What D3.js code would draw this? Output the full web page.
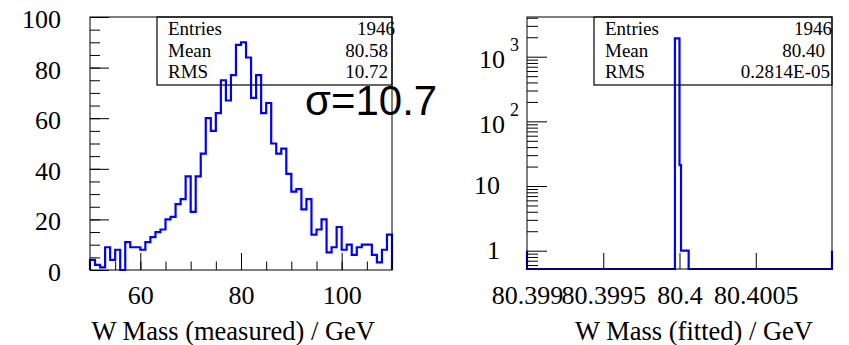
<!DOCTYPE html>
<html><head><meta charset="utf-8">
<script src="https://cdn.jsdelivr.net/npm/d3@7"></script>
<style>html,body{margin:0;padding:0;background:#fff;} svg{display:block;}</style>
</head><body>
<svg id="c" width="849" height="345"></svg>
<script>
// ---------- data ----------
const massRange = [50, 110];
const massCounts = [4, 2, 1, 9, 4, 8, 0, 11, 9, 9,
                    8, 11, 13, 15, 16, 20, 21, 26, 28, 37,
                    23, 37, 46, 60, 55, 62, 75, 67, 77, 89,
                    90, 84, 68, 77, 62, 66, 50, 46, 48, 38,
                    31, 32, 24, 28, 14, 16, 20, 7, 9, 17,
                    8, 10, 6, 9, 10, 10, 6, 3, 8, 14];
const countTicks = [0, 20, 40, 60, 80, 100];
const measuredTicks = [60, 80, 100];

const fitRange = [80.399, 80.401];
const fitEdges = [80.39997, 80.4, 80.40001, 80.40006];
const fitCounts = [1922, 21, 1];
const fitEdgeLevel = 1;
const fitTicks = [80.399, 80.3995, 80.4, 80.4005];
const fitTickLabels = ["80.399", "80.3995", "80.4", "80.4005"];
const logTicks = [1, 10, 100, 1000];

const statLabels = ["Entries", "Mean", "RMS"];
const statsMeasured = ["1946", "80.58", "10.72"];
const statsFitted = ["1946", "80.40", "0.2814E-05"];
const sigmaText = "σ=10.7";
const titleMeasured = "W Mass (measured) / GeV";
const titleFitted = "W Mass (fitted) / GeV";

// ---------- drawing ----------
const svg = d3.select("#c");
const serif = "'Liberation Serif','Times New Roman',serif";
const sans = "'Liberation Sans',Arial,sans-serif";
const blue = "#0000ff";

function styleAxis(g, size) {
  g.select(".domain").remove();
  g.attr("font-family", serif).attr("font-size", size);
  g.selectAll("line").attr("stroke", "#000").attr("stroke-width", 1);
}

// ===== LEFT PAD =====
const L = {x0: 90, x1: 392, y0: 17, y1: 270};
const xL = d3.scaleLinear().domain(massRange).range([L.x0, L.x1]);
const yL = d3.scaleLinear().domain([0, 100]).range([L.y1, L.y0]);
const binW = (massRange[1] - massRange[0]) / massCounts.length;

// histogram
const ptsL = [[massRange[0], 0]];
massCounts.forEach((v, i) => {
  const a = massRange[0] + i * binW;
  ptsL.push([a, v], [a + binW, v]);
});
ptsL.push([massRange[1], 0]);
svg.append("path")
  .attr("d", d3.line().x(d => xL(d[0])).y(d => yL(d[1]))(ptsL))
  .attr("fill", "none").attr("stroke", blue).attr("stroke-width", 2.2)
  .attr("stroke-linejoin", "miter");

// frame
svg.append("rect").attr("x", L.x0).attr("y", L.y0)
  .attr("width", L.x1 - L.x0).attr("height", L.y1 - L.y0)
  .attr("fill", "none").attr("stroke", "#000").attr("stroke-width", 1);

// y axis
svg.append("g").attr("transform", `translate(${L.x0},0)`)
  .call(d3.axisLeft(yL).tickValues(d3.range(0, 101, 5)).tickSize(-10).tickFormat(""))
  .call(g => styleAxis(g, 26));
svg.append("g").attr("transform", `translate(${L.x0},0)`)
  .call(d3.axisLeft(yL).tickValues(countTicks).tickSize(-19).tickPadding(29))
  .call(g => styleAxis(g, 26))
  .call(g => g.selectAll("text").attr("dy", "0.4em"));
// x axis
svg.append("g").attr("transform", `translate(0,${L.y1})`)
  .call(d3.axisBottom(xL).tickValues(d3.range(50, 111, 5)).tickSize(-8.5).tickFormat(""))
  .call(g => styleAxis(g, 26));
svg.append("g").attr("transform", `translate(0,${L.y1})`)
  .call(d3.axisBottom(xL).tickValues(measuredTicks).tickSize(-17).tickPadding(15.5))
  .call(g => styleAxis(g, 26));

// title
svg.append("text").attr("x", 375).attr("y", 340).attr("text-anchor", "end")
  .attr("font-family", serif).attr("font-size", 26.5).text(titleMeasured);

// stats box
function statsBox(x0, x1, vals, valueEnds) {
  svg.append("rect").attr("x", x0).attr("y", 17).attr("width", x1 - x0).attr("height", 68)
    .attr("fill", "none").attr("stroke", "#000").attr("stroke-width", 1.2);
  const rows = [35, 56.5, 78];
  statLabels.forEach((lab, i) => {
    svg.append("text").attr("x", x0 + 11).attr("y", rows[i])
      .attr("font-family", serif).attr("font-size", 19).text(lab);
    svg.append("text").attr("x", valueEnds[i]).attr("y", rows[i]).attr("text-anchor", "end")
      .attr("font-family", serif).attr("font-size", 19).text(vals[i]);
  });
}
statsBox(157, 392, statsMeasured, [395, 388, 388]);

// sigma
svg.append("text").attr("x", 305).attr("y", 115)
  .attr("font-family", sans).attr("font-size", 42).text(sigmaText);

// ===== RIGHT PAD =====
const R = {x0: 527, x1: 832, y0: 17, y1: 269};
const xR = d3.scaleLinear().domain(fitRange).range([R.x0, R.x1]);
const yR = d3.scaleLog().domain([0.521, 4110]).range([R.y1, R.y0]);
const yFloor = yR.domain()[0];
const yv = v => yR(v > 0 ? v : yFloor);

const binsR = [{a: fitRange[0], b: fitEdges[0], v: 0}];
fitCounts.forEach((v, i) => binsR.push({a: fitEdges[i], b: fitEdges[i + 1], v}));
binsR.push({a: fitEdges[fitEdges.length - 1], b: fitRange[1], v: 0});
const ptsR = [[fitRange[0], fitEdgeLevel]];
binsR.forEach(d => ptsR.push([d.a, d.v], [d.b, d.v]));
ptsR.push([fitRange[1], fitEdgeLevel]);
svg.append("path")
  .attr("d", d3.line().x(d => xR(d[0])).y(d => yv(d[1]))(ptsR))
  .attr("fill", "none").attr("stroke", blue).attr("stroke-width", 2.2)
  .attr("stroke-linejoin", "miter");

svg.append("rect").attr("x", R.x0).attr("y", R.y0)
  .attr("width", R.x1 - R.x0).attr("height", R.y1 - R.y0)
  .attr("fill", "none").attr("stroke", "#000").attr("stroke-width", 1);

// y log axis
const minorLog = yR.ticks().filter(v => !logTicks.includes(v));
svg.append("g").attr("transform", `translate(${R.x0},0)`)
  .call(d3.axisLeft(yR).tickValues(minorLog).tickSize(-11).tickFormat(""))
  .call(g => styleAxis(g, 26));
svg.append("g").attr("transform", `translate(${R.x0},0)`)
  .call(d3.axisLeft(yR).tickValues(logTicks).tickSize(-20).tickFormat(""))
  .call(g => styleAxis(g, 26))
  .call(g => g.selectAll(".tick").each(function(d) {
    const t = d3.select(this).append("text").attr("fill", "#000")
      .attr("text-anchor", "end");
    const e = Math.round(Math.log10(d));
    if (e < 2) {
      t.attr("x", -27).attr("dy", "0.3em").text(String(d));
    } else {
      t.attr("x", -8).attr("dy", "0.43em");
      t.append("tspan").text("10");
      t.append("tspan").attr("dx", 5).attr("dy", -17).attr("font-size", 18).text(String(e));
    }
  }));
// x axis
svg.append("g").attr("transform", `translate(0,${R.y1})`)
  .call(d3.axisBottom(xR).tickValues(fitTicks).tickSize(-16).tickPadding(16.5)
    .tickFormat((d, i) => fitTickLabels[i]))
  .call(g => styleAxis(g, 26));

svg.append("text").attr("x", 813).attr("y", 340).attr("text-anchor", "end")
  .attr("font-family", serif).attr("font-size", 26.5).text(titleFitted);

statsBox(594, 832, statsFitted, [832, 825, 830]);
</script>
</body></html>
